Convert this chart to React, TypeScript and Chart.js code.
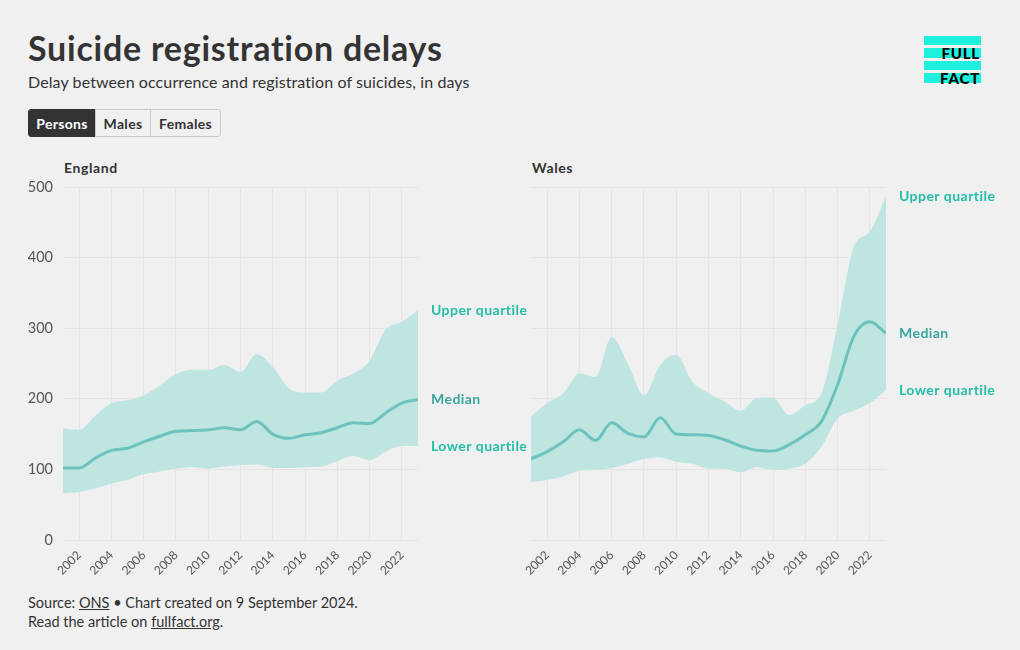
import React, { useEffect, useRef } from "react";
import { Chart, registerables } from "chart.js";
Chart.register(...registerables);

const FONT = "Lato, 'Noto Sans', sans-serif";

const years = [2001, 2002, 2003, 2004, 2005, 2006, 2007, 2008, 2009, 2010, 2011, 2012, 2013, 2014, 2015, 2016, 2017, 2018, 2019, 2020, 2021, 2022, 2023];
const xTickYears = [2002, 2004, 2006, 2008, 2010, 2012, 2014, 2016, 2018, 2020, 2022];
const yTickValues = [0, 100, 200, 300, 400, 500];

const englandUpper = [158, 156, 176, 194, 198, 205, 219, 235, 241, 241, 248, 238, 263, 245, 215, 209, 209, 226, 236, 254, 298, 309, 325];
const englandMedian = [102, 102, 116, 127, 130, 139, 147, 154, 155, 156, 159, 156, 168, 150, 144, 149, 152, 159, 166, 165, 180, 194, 199];
const englandLower = [66, 68, 73, 80, 85, 93, 97, 101, 103, 101, 104, 106, 107, 102, 102, 103, 104, 112, 119, 113, 125, 133, 133];

const walesUpper = [175, 194, 208, 236, 231, 288, 250, 205, 248, 262, 224, 208, 196, 183, 201, 202, 177, 191, 208, 305, 415, 437, 487];
const walesMedian = [115, 125, 139, 156, 141, 166, 151, 146, 173, 150, 149, 148, 142, 133, 127, 126, 135, 149, 168, 220, 288, 309, 293];
const walesLower = [82, 85, 90, 98, 99, 102, 108, 115, 117, 111, 108, 101, 101, 96, 103, 99, 101, 108, 132, 172, 183, 194, 212];

const seriesLabels = ["Upper quartile", "Median", "Lower quartile"];

const BAND = "#bfe5e1";
const LINE = "#6cc3be";
const QUART_LABEL = "#22bea8";
const MEDIAN_LABEL = "#3aa59f";
const GRID = "#e4e4e4";

const endLabels = {
  id: "endLabels",
  afterDraw(chart: any) {
    const ctx = chart.ctx;
    const right = chart.chartArea.right;
    chart.data.datasets.forEach((ds: any) => {
      if (!ds.endLabel) return;
      const last = ds.data[ds.data.length - 1];
      const y = chart.scales.y.getPixelForValue(last.y);
      ctx.save();
      ctx.font = `bold 14px ${FONT}`;
      (ctx as any).letterSpacing = "0.45px";
      ctx.fillStyle = ds.endLabelColor;
      ctx.textBaseline = "middle";
      ctx.textAlign = "left";
      ctx.fillText(ds.endLabel, right + 13, y);
      ctx.restore();
    });
  },
};

function toPoints(vals: number[]) {
  return years.map((yr, i) => ({ x: yr, y: vals[i] }));
}

function Panel(props: { upper: number[]; median: number[]; lower: number[]; showY: boolean }) {
  const ref = useRef<HTMLCanvasElement>(null);
  useEffect(() => {
    const chart = new Chart(ref.current as HTMLCanvasElement, {
      type: "line",
      data: {
        datasets: [
          {
            label: seriesLabels[0],
            data: toPoints(props.upper),
            borderWidth: 0,
            borderColor: "rgba(0,0,0,0)",
            backgroundColor: BAND,
            fill: "+1",
            pointRadius: 0,
            cubicInterpolationMode: "monotone",
            endLabel: seriesLabels[0],
            endLabelColor: QUART_LABEL,
          } as any,
          {
            label: seriesLabels[2],
            data: toPoints(props.lower),
            borderWidth: 0,
            borderColor: "rgba(0,0,0,0)",
            fill: false,
            pointRadius: 0,
            cubicInterpolationMode: "monotone",
            endLabel: seriesLabels[2],
            endLabelColor: QUART_LABEL,
          } as any,
          {
            label: seriesLabels[1],
            data: toPoints(props.median),
            borderWidth: 3,
            borderColor: LINE,
            fill: false,
            pointRadius: 0,
            cubicInterpolationMode: "monotone",
            endLabel: seriesLabels[1],
            endLabelColor: MEDIAN_LABEL,
          } as any,
        ],
      },
      options: {
        responsive: false,
        animation: false,
        events: [],
        layout: { padding: { top: 17, right: 110, left: 0, bottom: 0 } },
        plugins: {
          legend: { display: false },
          tooltip: { enabled: false },
          filler: { drawTime: "beforeDatasetsDraw" },
        } as any,
        scales: {
          x: {
            type: "linear",
            min: 2001,
            max: 2023,
            afterBuildTicks: (axis: any) => {
              axis.ticks = xTickYears.map((v) => ({ value: v }));
            },
            afterFit: (axis: any) => {
              axis.height = 50;
              axis.paddingLeft = 0;
              axis.paddingRight = 0;
            },
            grid: { color: GRID, drawTicks: false },
            border: { display: false },
            ticks: {
              minRotation: 45,
              maxRotation: 45,
              padding: 8,
              color: "#555",
              font: { family: FONT, size: 12 },
              callback: (v: any) => String(v),
            },
          },
          y: {
            min: 0,
            max: 500,
            afterBuildTicks: (axis: any) => {
              axis.ticks = yTickValues.map((v) => ({ value: v }));
            },
            afterFit: (axis: any) => {
              axis.width = 35;
              axis.paddingTop = 0;
              axis.paddingBottom = 0;
            },
            grid: { color: GRID, drawTicks: false },
            border: { display: false },
            ticks: {
              display: props.showY,
              padding: 10,
              color: "#555",
              font: { family: FONT, size: 14.5 },
            },
          },
        },
      } as any,
      plugins: [endLabels],
    });
    return () => chart.destroy();
  }, []);
  return <canvas ref={ref} width={500} height={420} style={{ width: 500, height: 420, display: "block" }} />;
}

function Logo() {
  const cyan = "#1ef0dd";
  const stripe = (top: number, h: number) => (
    <div style={{ position: "absolute", left: 0, top, width: 57, height: h, background: cyan }} />
  );
  const txt = { position: "absolute" as const, right: 1, font: `900 15px ${FONT}`, color: "#000", lineHeight: "16px", letterSpacing: "0.8px" };
  return (
    <div style={{ position: "absolute", left: 924, top: 36, width: 57, height: 47 }}>
      {stripe(0, 9)}
      {stripe(12, 10)}
      {stripe(25, 9)}
      {stripe(37, 10)}
      <div style={{ ...txt, top: 9 }}>FULL</div>
      <div style={{ ...txt, top: 34 }}>FACT</div>
    </div>
  );
}

export default function App() {
  const btn = (label: string, active: boolean, w: number, radius: string) => (
    <div
      style={{
        width: w,
        height: 28,
        boxSizing: "border-box",
        border: active ? "1px solid #333" : "1px solid #c8c8c8",
        background: active ? "#333" : "#f0f0f0",
        color: active ? "#fff" : "#333",
        font: `bold 14px ${FONT}`,
        letterSpacing: "0.3px",
        display: "flex",
        alignItems: "center",
        justifyContent: "center",
        borderRadius: radius,
        marginLeft: active ? 0 : -1,
      }}
    >
      {label}
    </div>
  );
  const panelTitle = { position: "absolute" as const, top: 159, font: `bold 14px ${FONT}`, letterSpacing: "0.6px", color: "#333", lineHeight: "18px" };
  return (
    <div style={{ position: "fixed", left: 0, top: 0, width: 1020, height: 650, background: "#f0f0f0", fontFamily: FONT, color: "#333", overflow: "hidden" }}>
      <div style={{ position: "absolute", left: 28, top: 28, font: `bold 34px ${FONT}`, letterSpacing: "0.75px", color: "#333", lineHeight: "40px", whiteSpace: "nowrap" }}>
        Suicide registration delays
      </div>
      <div style={{ position: "absolute", left: 28, top: 72, font: `16px ${FONT}`, letterSpacing: "0.1px", color: "#333", lineHeight: "20px", whiteSpace: "nowrap" }}>
        Delay between occurrence and registration of suicides, in days
      </div>
      <div style={{ position: "absolute", left: 28, top: 109, display: "flex" }}>
        {btn("Persons", true, 68, "3px 0 0 3px")}
        {btn("Males", false, 56, "0")}
        {btn("Females", false, 71, "0 3px 3px 0")}
      </div>
      <Logo />
      <div style={{ ...panelTitle, left: 64 }}>England</div>
      <div style={{ ...panelTitle, left: 532 }}>Wales</div>
      <div style={{ position: "absolute", left: 28, top: 170 }}>
        <Panel upper={englandUpper} median={englandMedian} lower={englandLower} showY={true} />
      </div>
      <div style={{ position: "absolute", left: 496, top: 170 }}>
        <Panel upper={walesUpper} median={walesMedian} lower={walesLower} showY={false} />
      </div>
      <div style={{ position: "absolute", left: 28, top: 593, font: `14.5px ${FONT}`, color: "#333", lineHeight: "19px", whiteSpace: "nowrap" }}>
        <div>
          Source: <span style={{ textDecoration: "underline" }}>ONS</span> • Chart created on 9 September 2024.
        </div>
        <div>
          Read the article on <span style={{ textDecoration: "underline" }}>fullfact.org</span>.
        </div>
      </div>
    </div>
  );
}
